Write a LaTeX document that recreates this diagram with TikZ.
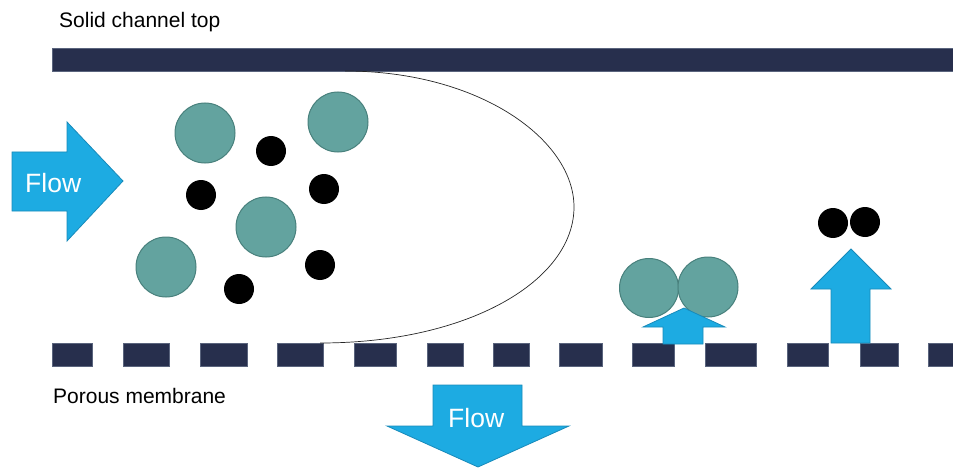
\documentclass[tikz,border=0pt]{standalone}
\usepackage{fontspec}
\setmainfont{Liberation Sans}
\definecolor{navy}{RGB}{39,47,77}
\definecolor{navyedge}{RGB}{90,100,125}
\definecolor{teal1}{RGB}{99,163,159}
\definecolor{tealedge}{RGB}{72,128,124}
\definecolor{flowblue}{RGB}{29,171,226}
\definecolor{flowedge}{RGB}{24,138,186}
\tikzset{
  bar/.style={fill=navy, draw=navyedge, line width=0.6pt},
  bigp/.style={circle, fill=teal1, draw=tealedge, line width=1pt, minimum size=60pt, inner sep=0pt},
  smallp/.style={circle, fill=black, minimum size=30pt, inner sep=0pt},
  flowarrow/.style={fill=flowblue, draw=flowedge, line width=0.8pt, line join=miter},
  lbl/.style={font=\fontsize{21}{25}\selectfont, text=black, inner sep=0pt},
  flowtxt/.style={font=\fontsize{26.5}{30}\selectfont, text=white, inner sep=0pt},
}
\begin{document}
\begin{tikzpicture}[x=1pt,y=-1pt]
\useasboundingbox (0,0) rectangle (953,468);
% top bar
\path[bar] (52,48) rectangle (955,71);
\node[lbl, anchor=base west] (toplbl) at (59,27.5) {Solid channel top};
% membrane
\foreach \a/\b in {52/92,123/169,200/247,277/323,354/396,427/463,493/529,559/602,632/674,705/756,787/828,860/898,928/955}
  \path[bar] (\a,343) rectangle (\b,366);
\node[lbl, anchor=base west] (botlbl) at (53,403) {Porous membrane};
% boundary layer curve
\draw[line width=0.7pt, black!85] (345,71) .. controls (480,71) and (574,140) .. (574,207)
  .. controls (574,280) and (470,343) .. (320,343);
% left flow arrow
\path[flowarrow] (12,152) -- (67,152) -- (67,122) -- (123,181) -- (67,241) -- (67,211) -- (12,211) -- cycle;
\node[flowtxt, anchor=base west] (flowl) at (25,192) {Flow};
% bottom flow arrow
\path[flowarrow] (433,385) -- (522,385) -- (522,426) -- (569,426) -- (478,467) -- (387,426) -- (433,426) -- cycle;
\node[flowtxt, anchor=base west] (flowb) at (448,427) {Flow};
% particles
\node[bigp] (p1) at (205,133) {};
\node[bigp] (p2) at (338,122) {};
\node[bigp] (p3) at (266,227) {};
\node[bigp] (p4) at (166,267) {};
\node[smallp] (s1) at (271,151) {};
\node[smallp] (s2) at (201,195) {};
\node[smallp] (s3) at (324,189) {};
\node[smallp] (s4) at (320,265) {};
\node[smallp] (s5) at (239,289) {};
% right side
\node[bigp, minimum size=59pt] (r1) at (649,288) {};
\node[bigp] (r2) at (708,287) {};
\path[flowarrow] (663,344) -- (663,327) -- (643,327) -- (684,308) -- (725,327) -- (703,327) -- (703,344) -- cycle;
\node[smallp] (r3) at (833,223) {};
\node[smallp] (r4) at (865,222) {};
\path[flowarrow] (831,343) -- (831,289) -- (811,289) -- (851,249) -- (891,289) -- (870,289) -- (870,343) -- cycle;
\end{tikzpicture}
\end{document}
